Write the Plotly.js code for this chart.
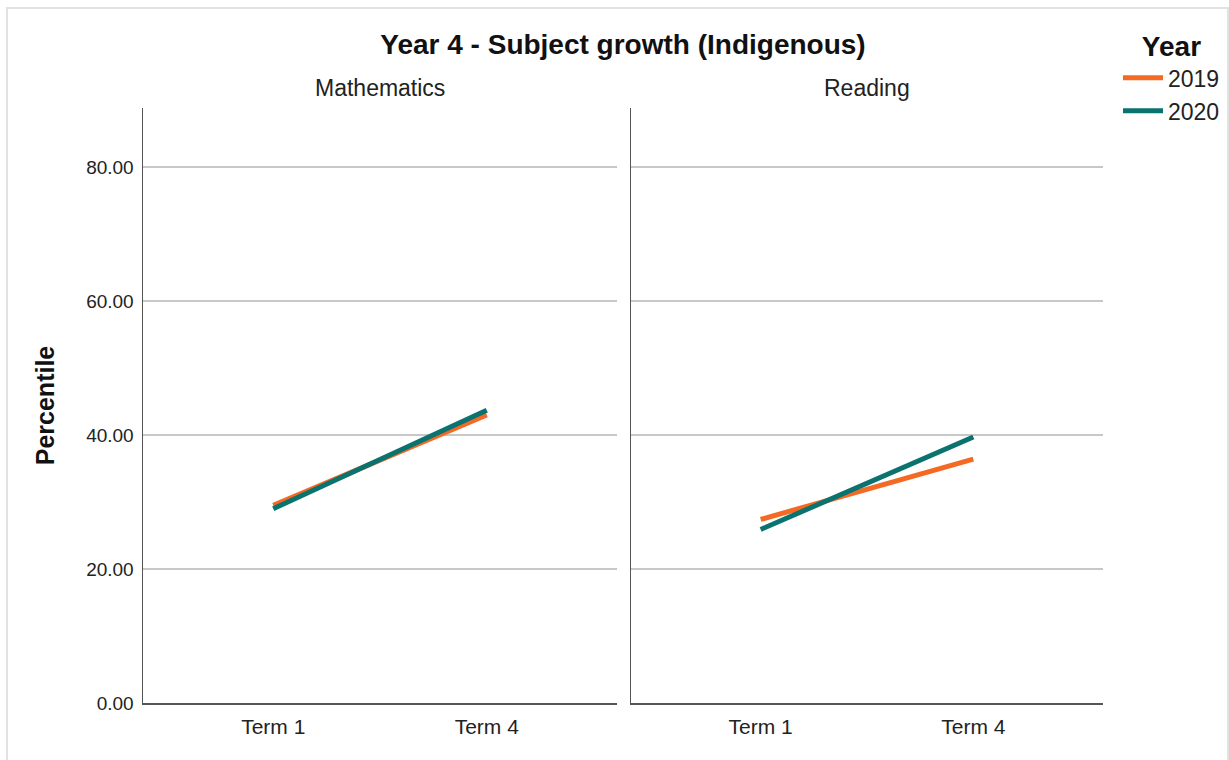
<!DOCTYPE html>
<html>
<head>
<meta charset="utf-8">
<script src="https://cdn.plot.ly/plotly-3.0.1.min.js"></script>
<style>
html,body{margin:0;padding:0;background:#fff;}
#chart{width:1229px;height:760px;}
</style>
</head>
<body>
<div id="chart"></div>
<script>
const terms = ["Term 1", "Term 4"];
const years = ["2019", "2020"];
const subjects = ["Mathematics", "Reading"];
const math2019 = [29.5, 43.0];
const math2020 = [29.0, 43.7];
const read2019 = [27.4, 36.4];
const read2020 = [25.9, 39.7];
const yTickVals = [0, 20, 40, 60, 80];

const colors = {"2019": "#f46a25", "2020": "#0a7370"};
const font = "Liberation Sans, Arial, sans-serif";

function tr(y, yr, ax, show) {
  return {
    x: terms, y: y, name: yr, type: "scatter", mode: "lines",
    xaxis: ax === 1 ? "x" : "x2", yaxis: ax === 1 ? "y" : "y2",
    line: {color: colors[yr], width: 5},
    showlegend: show, legendgroup: yr, hoverinfo: "x+y+name"
  };
}

const data = [
  tr(math2019, "2019", 1, true),
  tr(math2020, "2020", 1, true),
  tr(read2019, "2019", 2, false),
  tr(read2020, "2020", 2, false)
];

const W = 1229, H = 760;
const axisCommon = {
  type: "category", range: [-0.61, 1.61], showgrid: false, zeroline: false,
  showline: true, linecolor: "#555555", linewidth: 1.5, ticks: "",
  ticklabelstandoff: 4,
  tickfont: {family: font, size: 21, color: "#222"}, fixedrange: true
};
const yCommon = {
  range: [0, 88.8], tickvals: yTickVals, tickformat: ".2f",
  showgrid: true, gridcolor: "#c8c8c8", gridwidth: 1.5, zeroline: false,
  showline: true, linecolor: "#555555", linewidth: 1.5, ticks: "",
  ticklabelstandoff: 4,
  tickfont: {family: font, size: 19, color: "#222"}, fixedrange: true,
  domain: [1 - 703 / H, 1 - 108 / H]
};

const layout = {
  width: W, height: H,
  margin: {l: 0, r: 0, t: 0, b: 0},
  paper_bgcolor: "#fff", plot_bgcolor: "#fff",
  font: {family: font, color: "#222"},
  title: {text: "<b>Year 4 - Subject growth (Indigenous)</b>", x: 623 / W, xanchor: "center", y: 1 - 44 / H, yanchor: "middle",
          font: {family: font, size: 28, color: "#111"}},
  xaxis: Object.assign({}, axisCommon, {domain: [143 / W, 617 / W], anchor: "y"}),
  xaxis2: Object.assign({}, axisCommon, {domain: [631 / W, 1103 / W], anchor: "y2"}),
  yaxis: Object.assign({}, yCommon, {anchor: "x",
    title: {text: "<b>Percentile</b>", standoff: 24, font: {family: font, size: 25, color: "#111"}}}),
  yaxis2: Object.assign({}, yCommon, {anchor: "x2", showticklabels: false}),
  annotations: [
    {text: subjects[0], xref: "paper", yref: "paper", x: 380 / W, y: 1 - 88 / H, xanchor: "center", yanchor: "middle",
     showarrow: false, font: {family: font, size: 23, color: "#222"}},
    {text: subjects[1], xref: "paper", yref: "paper", x: 867 / W, y: 1 - 88 / H, xanchor: "center", yanchor: "middle",
     showarrow: false, font: {family: font, size: 23, color: "#222"}}
  ],
  legend: {
    x: 1118 / W, xanchor: "left", y: 1 - 20 / H, yanchor: "top",
    title: {text: "<b>Year</b>", side: "top center", font: {family: font, size: 28, color: "#111"}},
    font: {family: font, size: 23, color: "#222"},
    bgcolor: "rgba(0,0,0,0)", itemwidth: 40, tracegroupgap: 0
  },
  shapes: [
    {type: "rect", xref: "paper", yref: "paper", x0: 7 / W, x1: 1228 / W, y0: -0.02, y1: 1 - 8 / H,
     line: {color: "#e2e2e2", width: 2}, fillcolor: "rgba(0,0,0,0)", layer: "below"}
  ]
};

Plotly.newPlot("chart", data, layout, {displayModeBar: false, staticPlot: true});
</script>
</body>
</html>
